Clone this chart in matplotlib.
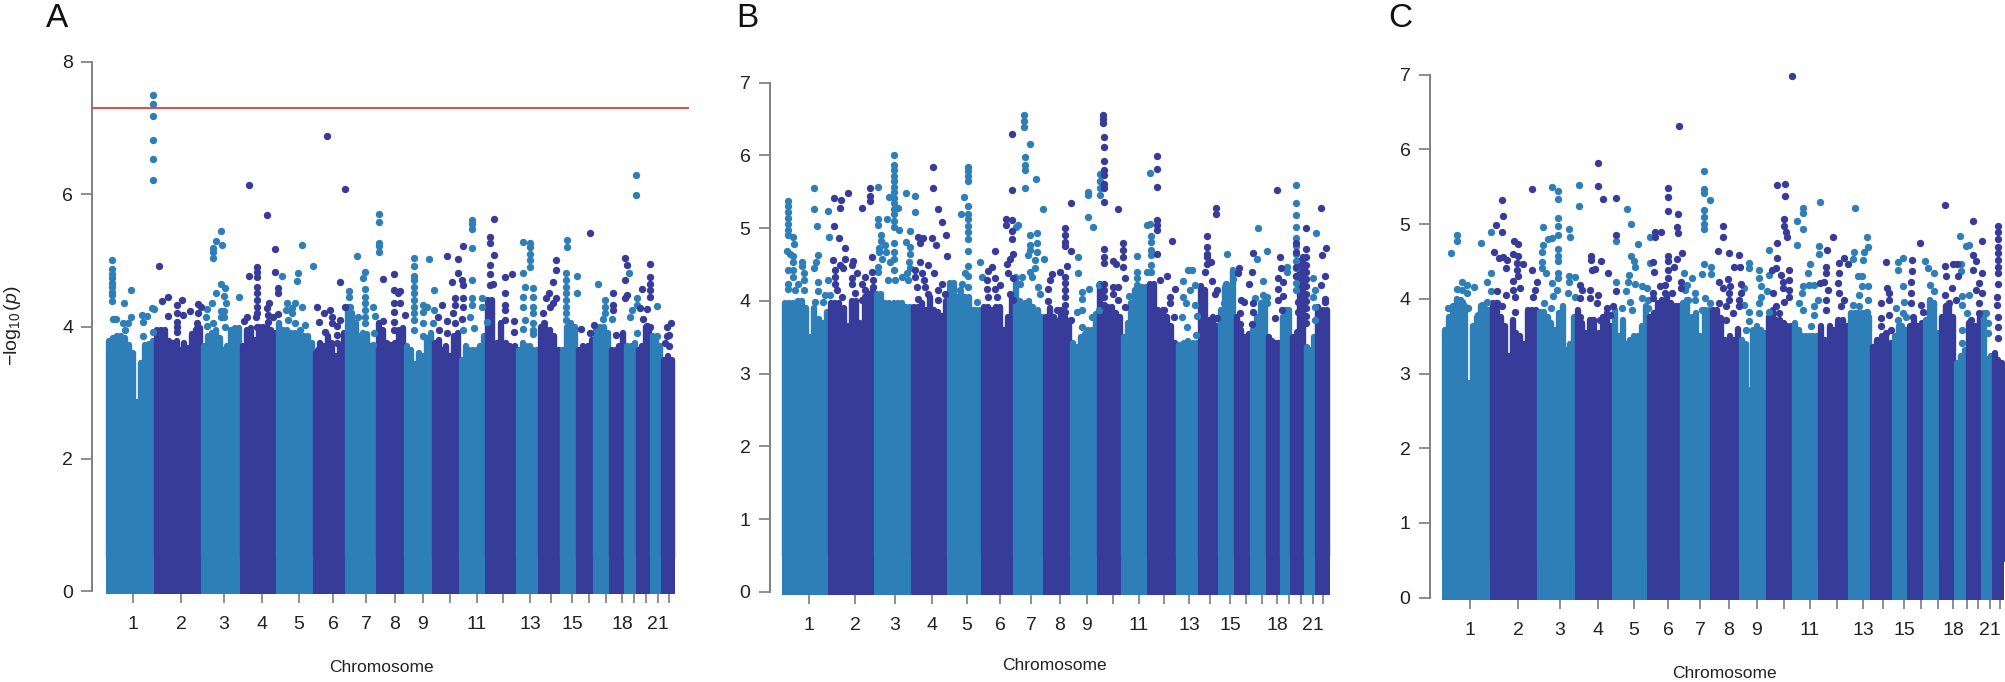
import numpy as np
import matplotlib
matplotlib.use('Agg')
import matplotlib.pyplot as plt

plt.rcParams['font.family'] = ['Liberation Sans', 'DejaVu Sans']
plt.rcParams['mathtext.fontset'] = 'custom'
plt.rcParams['mathtext.rm'] = 'Liberation Sans'
plt.rcParams['mathtext.it'] = 'Liberation Sans:italic'

LIGHT = '#2E7FB8'
DARK = '#373B99'
W, H = 2006, 682

chrom_labels = ['1', '2', '3', '4', '5', '6', '7', '8', '9', '', '11', '', '13', '', '15', '', '', '18', '', '', '21', '']

# ---------- panel A ----------
a_bounds = [0, 48, 95, 134, 170, 207, 239, 270, 298, 326, 353, 379, 410, 432, 454, 470, 487, 503, 518, 530, 544, 555, 567]
a_ticks = [26, 74, 117, 155, 192, 226, 259, 288, 316, 343, 370, 396, 423, 444, 465, 482, 499, 515, 527, 539, 551, 562]
# upper edge of the solid mass, per chromosome
a_tops = [
    [3.78, 3.82, 3.85, 3.85, 3.82, 3.72, 3.60, 2.86, 3.45, 3.72, 3.74, 3.78],
    [3.95, 3.95, 3.95, 3.78, 3.75, 3.78, 3.65, 3.75, 3.68, 3.88, 3.95, 3.98],
    [3.70, 3.85, 3.90, 3.95, 3.82, 3.65, 3.70, 3.95, 3.97, 3.97],
    [3.70, 3.95, 3.97, 3.80, 4.00, 4.00, 4.00, 3.95, 3.90],
    [4.05, 3.95, 3.95, 3.90, 3.90, 3.85, 3.85, 3.85, 3.75],
    [3.60, 3.75, 3.70, 3.85, 3.75, 3.55, 3.70, 3.90],
    [4.30, 4.20, 4.05, 3.85, 3.90, 3.88, 3.70, 3.65],
    [4.05, 3.95, 3.75, 3.72, 3.75, 3.95, 3.97],
    [3.70, 3.65, 3.44, 3.60, 3.55, 3.82, 3.90],
    [3.75, 3.80, 3.65, 3.70, 3.55, 3.85, 3.90],
    [3.50, 3.70, 3.65, 3.65, 3.65, 3.70, 3.85],
    [4.40, 4.40, 3.75, 4.05, 3.75, 3.70, 3.70],
    [3.65, 3.75, 3.70, 3.70, 3.65, 3.65],
    [4.00, 4.00, 3.95, 3.85, 3.65],
    [3.65, 4.00, 4.05, 4.00],
    [3.65, 3.70, 3.70, 3.80],
    [4.00, 4.00, 4.00, 3.90],
    [3.65, 3.65, 3.70, 3.90],
    [3.70, 3.70, 3.75],
    [3.65, 3.70, 4.00, 4.00],
    [3.85, 3.80, 3.70],
    [3.50, 3.55, 3.50],
]
a_light = [
    (46, 7.50), (46, 7.37), (46, 7.19), (46, 6.82), (46, 6.54), (46, 6.22), (529, 6.29), (529, 5.99),
    (5, 5.01), (5, 4.87), (5, 4.80), (5, 4.73), (5, 4.66), (5, 4.60), (5, 4.52), (5, 4.47), (5, 4.38),
    (24, 4.55), (17, 4.36), (6, 4.12), (9, 4.12), (24, 4.14), (16, 4.05), (21, 4.05), (18, 3.95),
    (35, 4.18), (40, 4.16), (36, 4.07), (36, 3.86), (46, 3.91), (47, 4.26), (45, 4.28),
    (114, 5.45), (109, 5.30), (115, 5.24), (106, 5.18), (106, 5.13), (106, 5.04), (114, 4.65), (118, 4.58),
    (109, 4.51), (117, 4.46), (105, 4.35), (119, 4.35), (100, 4.26), (99, 4.14), (114, 4.23), (117, 4.23),
    (114, 4.15), (117, 4.15), (106, 4.05), (100, 4.01), (118, 4.00), (132, 4.45),
    (195, 5.23), (191, 4.81), (190, 4.69), (175, 4.76), (206, 4.91), (180, 4.35), (188, 4.35), (179, 4.25),
    (185, 4.28), (195, 4.29), (185, 4.20), (181, 4.10), (188, 4.06), (198, 4.03), (193, 3.95),
    (272, 5.70), (272, 5.58), (272, 5.26), (272, 5.21), (272, 5.12), (250, 5.07), (258, 4.83), (256, 4.73),
    (258, 4.57), (242, 4.53), (242, 4.45), (258, 4.45), (258, 4.35), (258, 4.25), (266, 4.29), (268, 4.16),
    (258, 4.15), (243, 4.30), (251, 4.15), (258, 4.05), (267, 3.90), (266, 3.72),
    (307, 5.03), (307, 4.92), (307, 4.77), (307, 4.70), (307, 4.60), (307, 4.50), (307, 4.40), (307, 4.30),
    (307, 4.20), (307, 4.10), (307, 3.95), (322, 5.02), (316, 4.33), (320, 4.30), (327, 4.55), (316, 4.22),
    (316, 4.05), (316, 3.86), (327, 4.25), (326, 4.05),
    (365, 5.61), (365, 5.55), (365, 5.48), (365, 5.18), (365, 4.70), (365, 4.43), (375, 4.43), (365, 4.33),
    (375, 4.30), (363, 4.15), (380, 4.07), (356, 3.95), (367, 3.97),
    (416, 5.28), (423, 5.26), (423, 5.20), (423, 5.10), (423, 5.00), (423, 4.90), (416, 4.81), (418, 4.60),
    (416, 4.44), (416, 4.30), (426, 4.58), (426, 4.45), (426, 4.30), (426, 4.20), (426, 4.05), (426, 3.95),
    (426, 3.88), (418, 4.10), (416, 3.96),
    (460, 5.31), (460, 5.20), (459, 4.81), (459, 4.70), (459, 4.60), (459, 4.50), (459, 4.40), (459, 4.30),
    (459, 4.20), (459, 4.10), (470, 4.76), (470, 4.51), (491, 4.64), (498, 4.40), (498, 4.30), (498, 4.20),
    (505, 4.12), (496, 4.12), (493, 3.95), (522, 4.81), (530, 4.43), (525, 4.25), (530, 4.33), (523, 4.15),
    (550, 4.31), (550, 3.85), (530, 3.90),
]
a_dark = [
    (220, 6.88), (142, 6.14), (238, 6.08), (160, 5.69), (168, 5.17), (52, 4.91), (168, 4.83), (142, 4.77),
    (150, 4.90), (150, 4.82), (150, 4.75), (150, 4.60), (150, 4.50), (150, 4.40), (150, 4.30), (150, 4.20),
    (171, 4.58), (171, 4.51), (233, 4.68), (276, 4.72), (61, 4.44), (55, 4.38), (75, 4.40), (70, 4.32),
    (91, 4.34), (94, 4.29), (61, 4.16), (70, 4.21), (76, 4.18), (83, 4.23), (91, 4.21), (70, 4.07),
    (70, 4.00), (70, 3.92), (90, 4.05), (90, 3.97), (162, 4.35), (160, 4.28), (161, 4.18), (166, 4.15),
    (171, 4.19), (161, 4.07), (149, 4.15), (140, 4.15), (137, 4.08), (150, 4.00), (210, 4.29), (223, 4.25),
    (217, 4.20), (212, 4.07), (225, 4.15), (233, 4.10), (225, 4.05), (230, 4.01), (218, 3.92), (230, 3.87),
    (230, 3.75), (238, 4.30), (211, 3.65), (276, 4.08),
    (287, 4.80), (287, 4.55), (293, 4.53), (287, 4.35), (293, 4.35), (287, 4.22), (298, 4.17), (287, 4.07),
    (287, 3.95), (291, 4.50), (387, 5.62), (383, 5.36), (383, 5.26), (387, 5.08), (383, 4.93), (383, 4.80),
    (356, 5.22), (340, 5.06), (351, 5.02), (351, 4.81), (355, 4.71), (345, 4.68), (356, 4.63), (348, 4.43),
    (356, 4.43), (335, 4.33), (348, 4.33), (356, 4.30), (346, 4.20), (331, 4.15), (340, 4.09), (355, 4.12),
    (348, 4.05), (332, 3.95), (340, 3.90), (398, 4.75), (405, 4.80), (398, 4.50), (398, 4.33), (398, 4.25),
    (398, 4.10), (407, 4.09), (407, 3.92), (383, 4.63), (386, 4.65),
    (449, 5.01), (449, 4.86), (446, 4.68), (442, 4.51), (449, 4.43), (439, 4.43), (446, 4.35), (443, 4.30),
    (436, 4.20), (437, 4.05), (483, 5.41), (474, 3.96), (487, 4.02), (483, 3.90), (509, 3.87), (506, 4.51),
    (506, 4.33), (506, 4.25), (518, 5.03), (520, 4.93), (518, 4.70), (520, 4.48), (518, 4.43), (535, 4.56),
    (543, 4.95), (543, 4.75), (543, 4.65), (543, 4.55), (543, 4.45), (533, 4.28), (540, 4.26), (536, 4.12),
    (543, 4.00), (540, 4.01), (564, 4.05), (560, 4.00), (562, 3.87), (560, 3.85), (558, 3.75), (562, 3.70),
]

# ---------- panel B ----------
b_bounds = [0, 46, 92, 129, 165, 199, 231, 261, 288, 315, 339, 365, 394, 416, 436, 452, 468, 484, 498, 508, 522, 533, 546]
b_ticks = [26, 72, 112, 149, 184, 217, 248, 277, 304, 330, 356, 381, 406, 427, 447, 463, 479, 494, 506, 518, 530, 540]
b_tops = [
    [3.97, 3.97, 3.97, 4.00, 4.00, 3.90, 3.50, 3.90, 3.75, 3.70, 3.85],
    [3.97, 3.97, 3.97, 3.90, 3.65, 4.00, 4.00, 3.70, 4.05, 4.10, 4.15],
    [4.10, 4.10, 3.97, 3.97, 3.97, 3.97, 3.97, 3.92, 3.92],
    [3.92, 3.92, 3.97, 3.87, 4.05, 3.87, 3.85, 3.80, 4.00],
    [4.25, 4.25, 4.05, 4.10, 4.05, 4.05, 3.87, 3.87, 3.87],
    [3.92, 3.92, 3.87, 3.92, 3.92, 3.60, 3.78, 4.05],
    [4.33, 4.00, 3.97, 4.00, 3.92, 3.87, 3.78],
    [3.78, 3.90, 3.78, 3.73, 3.87, 3.78, 3.73],
    [3.42, 3.37, 3.50, 3.55, 3.60, 3.60, 3.82],
    [4.24, 3.87, 3.92, 3.92, 3.83, 3.78],
    [3.50, 3.70, 3.97, 4.15, 4.19, 4.19, 4.19],
    [4.24, 4.24, 3.87, 3.87, 3.78, 3.65, 3.42],
    [3.40, 3.42, 3.45, 3.42, 3.42],
    [4.20, 4.15, 3.74, 3.78, 3.65],
    [3.87, 4.19, 4.20, 4.42],
    [3.78, 3.60, 3.50, 3.55],
    [3.60, 3.78, 3.97, 4.00],
    [3.50, 3.45, 3.42, 3.42],
    [3.78, 3.87, 3.87],
    [3.50, 3.50, 4.55, 4.60],
    [3.37, 3.50],
    [3.92, 3.87, 3.87],
]
b_light = [
    (5, 5.38), (5, 5.30), (5, 5.22), (5, 5.14), (5, 5.06), (5, 4.98), (5, 4.90), (10, 4.88), (11, 4.78),
    (31, 5.55), (31, 5.26), (34, 5.03), (45, 5.23), (46, 4.88), (35, 4.63), (33, 4.54), (31, 4.46),
    (4, 4.69), (7, 4.64), (10, 4.62), (10, 4.54), (19, 4.54), (19, 4.48), (5, 4.42), (10, 4.42), (10, 4.33),
    (21, 4.38), (5, 4.24), (15, 4.24), (21, 4.29), (5, 4.16), (12, 4.15), (21, 4.15), (35, 4.26), (35, 4.14),
    (45, 4.29), (42, 4.08), (47, 4.08), (32, 3.98), (40, 3.98),
    (95, 5.57), (111, 6.00), (111, 5.87), (111, 5.80), (111, 5.72), (111, 5.65), (111, 5.57), (111, 5.50),
    (111, 5.42), (111, 5.35), (111, 5.27), (111, 5.20), (111, 5.10), (111, 5.02), (115, 5.28), (106, 5.43),
    (123, 5.48), (132, 5.44), (132, 5.22), (95, 5.13), (95, 5.04), (104, 5.12), (116, 4.97), (127, 4.96),
    (98, 4.90), (98, 4.83), (123, 4.81), (96, 4.73), (102, 4.77), (111, 4.79), (96, 4.67), (103, 4.67),
    (111, 4.67), (127, 4.74), (127, 4.65), (99, 4.58), (107, 4.54), (111, 4.58), (126, 4.54), (95, 4.47),
    (111, 4.42), (127, 4.45), (95, 4.40), (105, 4.29), (112, 4.29), (124, 4.38), (119, 4.33), (125, 4.29),
    (185, 5.84), (185, 5.78), (185, 5.72), (185, 5.65), (181, 5.43), (185, 5.30), (185, 5.20), (185, 5.12),
    (185, 5.03), (185, 4.95), (185, 4.85), (178, 5.19), (185, 4.68), (185, 4.48), (182, 4.39), (185, 4.34),
    (197, 4.54), (179, 4.24), (185, 4.19), (169, 4.20), (199, 4.33), (177, 4.15), (194, 3.99),
    (241, 6.55), (241, 6.48), (241, 6.39), (247, 6.16), (242, 5.98), (242, 5.87), (242, 5.80), (242, 5.55),
    (253, 5.68), (260, 5.26), (235, 5.05), (233, 5.02), (247, 4.90), (254, 4.94), (254, 4.80), (247, 4.77),
    (247, 4.70), (254, 4.67), (245, 4.63), (261, 4.58), (252, 4.56), (252, 4.45), (247, 4.40), (249, 4.33),
    (239, 4.33), (237, 4.24), (255, 4.19), (257, 4.10),
    (305, 5.50), (305, 5.45), (305, 5.16), (310, 5.01), (295, 4.61), (295, 4.39), (299, 4.13), (299, 4.03),
    (306, 4.16), (294, 3.85), (299, 3.87), (316, 4.22), (309, 3.78), (316, 3.88), (299, 3.64),
    (317, 5.75), (317, 5.65), (317, 5.55), (317, 5.45),
    (354, 4.62), (354, 4.40), (354, 4.31), (354, 4.22), (346, 4.07), (367, 5.76), (364, 5.05), (367, 5.06),
    (368, 4.89), (368, 4.81), (368, 4.70), (368, 4.63), (368, 4.49), (364, 4.40), (368, 4.40), (354, 4.10),
    (347, 3.90),
    (400, 4.27), (405, 4.42), (409, 4.42), (407, 4.15), (412, 4.22), (400, 4.06), (403, 3.97), (412, 3.94),
    (399, 3.78), (414, 3.80), (404, 3.64), (413, 3.53),
    (444, 4.64), (450, 4.40), (450, 4.30), (443, 4.24), (444, 4.10), (441, 3.97),
    (475, 5.00), (474, 4.58), (484, 4.69), (480, 4.27), (472, 4.04), (480, 4.08), (484, 4.06), (484, 3.97),
    (513, 5.59), (513, 5.35), (513, 5.18), (513, 5.01), (513, 4.86), (513, 4.75), (513, 4.65), (513, 4.55),
    (513, 4.45), (513, 4.35), (513, 4.25), (513, 4.15), (504, 4.47), (504, 4.40), (504, 3.87),
    (533, 4.93), (530, 4.32), (532, 4.15), (530, 4.06), (532, 3.92), (532, 3.74),
]
b_dark = [
    (65, 5.49), (51, 5.41), (58, 5.39), (57, 5.28), (79, 5.28), (87, 5.55), (87, 5.44), (87, 5.38), (51, 5.03),
    (56, 4.86), (62, 4.73), (50, 4.56), (62, 4.57), (70, 4.55), (89, 4.60), (69, 4.49), (57, 4.49), (52, 4.42),
    (60, 4.46), (52, 4.33), (74, 4.38), (69, 4.31), (89, 4.40), (82, 4.33), (52, 4.24), (69, 4.24), (79, 4.23),
    (90, 4.29), (54, 4.15), (90, 4.19), (72, 4.11), (82, 4.15), (59, 4.06), (79, 4.01),
    (150, 5.84), (150, 5.55), (155, 5.26), (159, 5.09), (163, 4.90), (135, 4.88), (140, 4.87), (149, 4.87),
    (137, 4.79), (153, 4.77), (164, 4.62), (137, 4.54), (145, 4.50), (132, 4.42), (139, 4.38), (151, 4.38),
    (132, 4.33), (141, 4.29), (159, 4.24), (134, 4.19), (142, 4.19), (155, 4.15), (145, 4.10), (162, 4.10),
    (135, 4.03), (155, 4.01),
    (229, 6.29), (229, 5.52), (212, 4.68), (223, 5.13), (223, 5.05), (229, 5.11), (229, 4.96), (229, 4.85),
    (230, 4.65), (227, 4.58), (224, 4.51), (209, 4.47), (205, 4.41), (225, 4.38), (230, 4.31), (204, 4.29),
    (212, 4.31), (217, 4.22), (204, 4.17), (212, 4.17), (227, 4.10), (205, 4.06), (214, 4.06), (230, 4.01),
    (282, 5.00), (282, 4.90), (282, 4.81), (282, 4.75), (288, 4.68), (284, 4.48), (282, 4.33), (282, 4.25),
    (282, 4.15), (282, 4.05), (282, 3.95), (282, 3.85), (277, 4.40), (269, 4.37), (267, 4.29), (265, 4.17),
    (265, 4.00), (274, 3.87), (288, 3.74),
    (320, 6.55), (320, 6.50), (320, 6.45), (321, 6.25), (321, 6.12), (321, 5.92), (321, 5.80), (321, 5.73),
    (321, 5.61), (321, 5.55), (321, 5.36), (321, 4.72), (321, 4.61), (321, 4.52), (321, 4.24), (321, 4.15),
    (321, 4.05), (321, 3.95), (288, 5.35), (335, 5.27), (330, 4.55), (333, 4.51), (340, 4.79), (340, 4.70),
    (340, 4.61), (340, 4.47), (342, 4.32), (330, 4.19), (335, 4.19), (330, 4.10), (335, 4.01), (342, 3.92),
    (374, 5.99), (374, 5.82), (374, 5.57), (374, 5.11), (374, 5.05), (374, 4.97), (389, 4.83), (374, 4.65),
    (384, 4.35), (377, 4.29), (392, 4.17), (387, 4.06), (387, 3.97), (381, 3.87), (391, 3.78),
    (433, 5.28), (433, 5.19), (424, 4.89), (424, 4.74), (424, 4.65), (424, 4.60), (424, 4.51), (428, 4.53),
    (422, 4.40), (429, 4.27), (434, 4.15), (432, 4.10), (434, 3.77),
    (456, 4.45), (455, 4.39), (466, 4.24), (458, 4.01), (461, 3.99), (457, 3.83), (457, 3.69),
    (470, 4.66), (469, 4.40), (470, 3.97), (470, 3.85), (469, 3.69),
    (494, 5.53), (497, 4.61), (498, 4.46), (495, 4.31), (500, 4.26), (495, 4.17), (500, 4.07), (495, 4.01),
    (499, 3.87), (492, 3.76),
    (513, 4.79), (513, 4.67), (513, 4.47), (513, 4.35), (523, 5.00), (523, 4.72), (523, 4.60), (523, 4.50),
    (523, 4.40), (523, 4.30), (523, 4.20), (523, 4.10), (523, 4.00), (523, 3.90), (523, 3.80), (523, 3.70),
    (515, 3.99), (515, 3.85), (514, 3.58),
    (538, 5.28), (543, 4.73), (539, 4.63), (542, 4.35), (538, 4.22), (542, 4.03), (542, 3.99),
]

# ---------- panel C ----------
c_bounds = [0, 48, 95, 133, 170, 205, 238, 268, 297, 324, 350, 376, 406, 428, 450, 465, 481, 497, 512, 524, 539, 550, 561]
c_ticks = [27, 75, 117, 155, 191, 225, 257, 286, 314, 341, 367, 394, 420, 440, 461, 478, 495, 510, 524, 535, 547, 557]
c_tops = [
    [3.58, 3.76, 3.90, 4.00, 3.98, 3.90, 2.87, 3.63, 3.76, 3.90, 3.88, 3.85],
    [3.94, 3.94, 3.76, 3.63, 3.23, 3.72, 3.54, 3.50, 3.40, 3.85, 3.85, 3.85],
    [3.83, 3.83, 3.76, 3.67, 3.58, 3.81, 3.90, 3.32, 3.40, 3.76],
    [3.85, 3.67, 3.54, 3.72, 3.72, 3.54, 3.76, 3.81, 3.63],
    [3.85, 3.50, 3.72, 3.40, 3.45, 3.50, 3.50, 3.63, 3.90],
    [3.76, 3.81, 3.94, 3.99, 4.03, 3.94, 3.85, 3.90],
    [3.94, 3.99, 3.76, 3.81, 3.50, 3.85, 3.85],
    [3.85, 3.85, 3.75, 3.45, 3.50, 3.45, 3.60],
    [3.45, 3.40, 2.78, 3.58, 3.63, 3.58, 3.54],
    [3.76, 3.85, 3.72, 3.72, 3.67, 3.63, 3.63],
    [3.67, 3.58, 3.50, 3.50, 3.50, 3.50, 3.50],
    [3.63, 3.45, 3.63, 3.58, 3.67, 3.72, 3.63],
    [3.81, 3.81, 3.81, 3.81, 3.81, 3.76],
    [3.36, 3.45, 3.50, 3.50, 3.41],
    [3.50, 3.63, 3.63, 3.58],
    [3.63, 3.72, 3.63, 3.67],
    [3.72, 3.99, 3.94, 3.54],
    [3.76, 3.90, 3.90, 3.76],
    [3.14, 3.23, 3.32],
    [3.67, 3.63, 3.63, 3.76],
    [3.81, 3.23],
    [3.27, 3.18, 3.14],
]
c_light = [
    (14, 4.86), (14, 4.77), (8, 4.61), (38, 4.75), (48, 4.89), (19, 4.22), (24, 4.19), (31, 4.16), (14, 4.13),
    (19, 4.12), (24, 4.08), (44, 4.22), (48, 4.34), (48, 4.10), (19, 3.96), (14, 3.99), (5, 3.88), (20, 3.92),
    (25, 3.88), (44, 3.96), (39, 3.92), (35, 3.79), (12, 3.90), (39, 3.83),
    (109, 5.50), (115, 5.45), (115, 5.33), (136, 5.53), (136, 5.24), (115, 5.08), (115, 4.97), (100, 4.96),
    (126, 4.93), (127, 4.83), (115, 4.86), (109, 4.81), (105, 4.80), (100, 4.72), (99, 4.63), (115, 4.67),
    (115, 4.57), (115, 4.50), (99, 4.49), (99, 4.41), (103, 4.34), (115, 4.34), (115, 4.28), (126, 4.30),
    (132, 4.29), (109, 4.21), (126, 4.23), (114, 4.12), (125, 4.08), (110, 4.04), (101, 3.94), (108, 3.88),
    (132, 4.03),
    (184, 5.20), (188, 5.00), (173, 4.77), (195, 4.74), (188, 4.58), (191, 4.51), (192, 4.42), (186, 4.32),
    (207, 4.48), (207, 4.83), (173, 4.23), (185, 4.22), (192, 4.20), (199, 4.17), (204, 4.14), (183, 4.10),
    (199, 4.01), (187, 3.96), (205, 3.99), (179, 3.88), (205, 3.88), (189, 3.85),
    (261, 5.71), (261, 5.47), (261, 5.42), (267, 5.32), (261, 5.19), (261, 5.10), (261, 5.00), (261, 4.93),
    (261, 4.47), (268, 4.42), (259, 4.33), (268, 4.33), (241, 4.34), (249, 4.28), (244, 4.19), (252, 4.08),
    (242, 4.12), (245, 3.99), (262, 4.01), (267, 3.94), (252, 3.99), (259, 3.85),
    (306, 4.48), (306, 4.41), (316, 4.39), (316, 4.28), (326, 4.66), (326, 4.32), (301, 4.14), (318, 4.17),
    (324, 4.11), (301, 3.92), (306, 3.83), (318, 4.03), (316, 3.94), (326, 3.83), (316, 3.81), (306, 3.70),
    (303, 3.58),
    (377, 5.29), (360, 5.21), (360, 5.15), (354, 5.04), (360, 4.93), (354, 4.72), (376, 4.71), (376, 4.60),
    (367, 4.46), (365, 4.34), (360, 4.17), (366, 4.19), (371, 4.18), (359, 4.08), (356, 3.94), (375, 3.99),
    (371, 3.90), (360, 3.85), (371, 3.79), (368, 3.64),
    (412, 5.21), (424, 4.83), (425, 4.70), (411, 4.63), (421, 4.63), (410, 4.53), (420, 4.52), (415, 4.31),
    (419, 4.31), (419, 4.17), (425, 4.17), (416, 4.05), (425, 3.99), (410, 3.92), (416, 3.90), (424, 3.83),
    (455, 4.49), (460, 4.54), (455, 4.38), (460, 4.17), (461, 3.96), (453, 3.88), (460, 3.81), (463, 3.76),
    (455, 3.72),
    (482, 4.51), (485, 4.41), (491, 4.34), (487, 4.19), (491, 4.11), (490, 3.94), (486, 3.81),
    (517, 4.84), (523, 4.71), (526, 4.72), (518, 4.46), (518, 4.37), (519, 4.04), (526, 4.05), (519, 3.92),
    (524, 3.81), (519, 3.58), (519, 3.41), (543, 3.81), (545, 3.67), (545, 3.54),
]
c_dark = [
    (349, 6.98), (236, 6.32),
    (59, 5.32), (60, 5.11), (89, 5.47), (53, 4.99), (59, 4.90), (71, 4.77), (75, 4.74), (51, 4.63), (56, 4.54),
    (60, 4.56), (64, 4.52), (63, 4.41), (70, 4.60), (75, 4.57), (74, 4.48), (80, 4.46), (89, 4.39), (74, 4.39),
    (75, 4.30), (94, 4.22), (70, 4.24), (77, 4.14), (54, 4.11), (63, 4.05), (92, 4.12), (70, 4.12), (90, 4.03),
    (72, 4.03), (72, 3.83), (54, 3.94), (59, 3.90),
    (155, 5.82), (155, 5.51), (160, 5.34), (173, 5.35), (173, 4.85), (158, 4.51), (148, 4.58), (148, 4.52),
    (149, 4.38), (152, 4.40), (165, 4.34), (173, 4.11), (137, 4.19), (139, 4.12), (147, 4.12), (155, 4.05),
    (147, 4.01), (154, 3.94), (164, 3.88), (170, 3.90), (137, 4.01), (137, 3.76), (149, 3.72), (157, 3.72),
    (167, 3.79),
    (225, 5.49), (225, 5.36), (225, 5.17), (235, 5.13), (234, 4.96), (235, 4.88), (212, 4.90), (218, 4.90),
    (212, 4.83), (239, 4.61), (225, 4.58), (234, 4.53), (225, 4.50), (210, 4.49), (231, 4.43), (225, 4.39),
    (211, 4.36), (225, 4.28), (238, 4.23), (217, 4.17), (222, 4.19), (238, 4.14), (210, 4.08), (222, 4.08),
    (229, 4.08), (210, 4.01), (219, 3.96), (232, 3.90), (222, 3.90),
    (280, 4.97), (280, 4.83), (275, 4.64), (286, 4.61), (296, 4.59), (291, 4.42), (297, 4.43), (276, 4.23),
    (285, 4.26), (280, 4.14), (287, 4.17), (298, 4.20), (286, 4.08), (298, 4.08), (286, 3.99), (296, 3.99),
    (283, 3.90), (296, 3.90), (276, 3.94), (290, 3.81), (283, 3.72),
    (334, 5.52), (342, 5.54), (342, 5.38), (341, 5.07), (341, 4.97), (343, 4.90), (344, 4.83), (334, 4.75),
    (334, 4.54), (333, 4.41), (329, 4.39), (338, 4.32), (346, 4.38), (340, 4.23), (346, 4.25), (340, 4.14),
    (346, 4.12), (330, 4.08), (346, 4.03), (333, 3.90), (341, 3.96), (336, 3.81),
    (390, 4.83), (384, 4.66), (383, 4.43), (383, 4.34), (377, 4.21), (381, 4.23), (385, 4.12), (383, 3.99),
    (383, 3.85), (401, 4.54), (396, 4.48), (405, 4.46), (396, 4.34), (395, 4.21), (396, 4.08), (401, 3.99),
    (398, 3.90), (395, 3.72),
    (443, 4.49), (444, 4.14), (446, 4.08), (446, 3.99), (438, 3.94), (438, 3.74), (446, 3.79), (438, 3.63),
    (448, 3.58), (443, 3.54),
    (477, 4.75), (469, 4.52), (469, 4.37), (468, 4.23), (468, 4.08), (468, 3.94), (478, 3.92), (480, 3.82),
    (470, 3.76),
    (502, 5.26), (530, 5.04), (539, 4.78), (530, 4.59), (533, 4.51), (502, 4.44), (510, 4.46), (514, 4.46),
    (503, 4.30), (515, 4.31), (509, 4.14), (502, 4.05), (513, 3.99), (506, 3.94), (503, 3.85),
    (530, 4.39), (539, 4.34), (536, 4.21), (533, 4.12), (539, 4.08), (536, 3.94), (536, 3.81), (528, 3.72),
    (555, 4.97), (555, 4.90), (555, 4.80), (555, 4.70), (555, 4.62), (555, 4.52), (555, 4.42), (555, 4.35),
    (555, 4.20), (554, 4.03), (554, 3.92), (555, 3.76), (555, 3.62), (555, 3.47),
]


def panel(left, right, zero_x, top_y, zero_y, bottom_y, ymax, bounds, tops, light, dark, ticks):
    # pixel frame of the axes, x axis unit is one picture pixel along the genome
    ax = fig.add_axes([left / W, 1 - bottom_y / H, (right - left) / W, (bottom_y - top_y) / H])
    ax.set_xlim(left - zero_x, right - zero_x)
    unit = (zero_y - top_y) / ymax
    ybot = -(bottom_y - zero_y) / unit
    ax.set_ylim(ybot, ymax)
    for i in range(len(tops)):
        col = LIGHT if i % 2 == 0 else DARK
        lo, hi = bounds[i], bounds[i + 1]
        # base block as wide as the columns with their round edges, so no step shows
        ax.bar((lo + hi) / 2, min(tops[i]) - ybot, bottom=ybot, width=hi - lo + 2.4, color=col, linewidth=0,
               zorder=2 + i * 0.01)
        xs = np.linspace(lo + 2, hi - 2, len(tops[i]))
        ax.vlines(xs, 0.5, tops[i], colors=col, linewidth=4.6, capstyle='round', clip_on=False, zorder=2 + i * 0.01)
    ax.scatter(*zip(*light), s=28, color=LIGHT, linewidths=0, clip_on=False, zorder=3)
    ax.scatter(*zip(*dark), s=28, color=DARK, linewidths=0, clip_on=False, zorder=3)
    for s in ['top', 'right', 'bottom']:
        ax.spines[s].set_visible(False)
    ax.spines['left'].set_bounds(0, ymax)
    ax.spines['left'].set_linewidth(1.4)
    ax.spines['left'].set_color('#808080')
    ax.set_yticks(range(0, ymax + 1, 2 if ymax == 8 else 1))
    ax.tick_params(axis='y', length=8, width=1.1, color='#707070', labelsize=14, pad=6, labelcolor='#222222')
    ax.set_xticks(ticks)
    ax.set_xticklabels(chrom_labels)
    ax.tick_params(axis='x', length=6.5, width=1.1, color='#707070', labelsize=14, pad=9, labelcolor='#222222')
    return ax


fig = plt.figure(figsize=(W / 100, H / 100), dpi=100)

ax_a = panel(92.5, 689, 107, 62, 591, 594, 8, a_bounds, a_tops, a_light, a_dark, a_ticks)
ax_a.axhline(7.3, color='#E23B36', linewidth=1.3, zorder=4)
panel(770, 1340, 783, 82.7, 592, 595, 7, b_bounds, b_tops, b_light, b_dark, b_ticks)
panel(1430, 2004, 1443, 74.7, 597.7, 600, 7, c_bounds, c_tops, c_light, c_dark, c_ticks)

# panel letters and axis titles
for letter, x in [('A', 46), ('B', 736), ('C', 1388)]:
    fig.text(x / W, 1 - 27 / H, letter, fontsize=24, color='#111111', ha='left', va='baseline')
for x, y in [(381, 668), (1054, 666), (1724, 673)]:
    fig.text(x / W, 1 - y / H, 'Chromosome', fontsize=12.5, color='#222222', ha='center', va='center')
fig.text(13 / W, 1 - 326 / H, r'$-\log_{10}(p)$', fontsize=14, rotation=90, color='#222222', ha='center', va='center')

fig.savefig('out.png', dpi=100)
